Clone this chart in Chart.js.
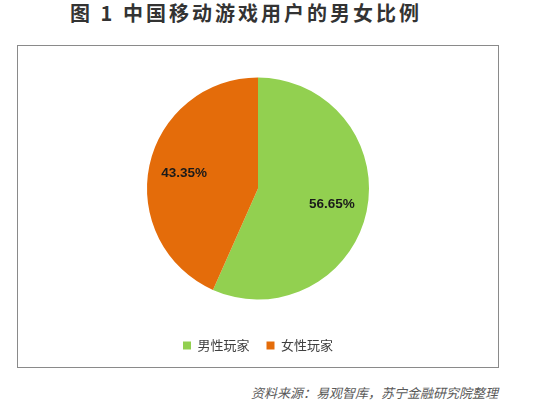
<!DOCTYPE html>
<html>
<head>
<meta charset="utf-8">
<script src="https://cdn.jsdelivr.net/npm/chart.js@4"></script>
<style>
  body { margin: 0; background: #fff; width: 534px; height: 404px; position: relative; overflow: hidden; }
  #title {
    position: absolute; left: 70px; top: 0px;
    font: bold 20px "Noto Sans CJK SC"; color: #333;
    letter-spacing: 3px; white-space: nowrap; line-height: 26px;
  }
  #box {
    position: absolute; left: 17px; top: 45px; width: 480px; height: 321px;
    border: 1px solid #8a8a8a;
  }
  #source {
    position: absolute; right: 36px; top: 383px;
    font: italic 13px "Noto Sans CJK SC"; color: #595959; white-space: nowrap;
  }
</style>
</head>
<body>
<div id="title">图 1 中国移动游戏用户的男女比例</div>
<div id="box"><canvas id="pieChart"></canvas></div>
<div id="source">资料来源：易观智库，苏宁金融研究院整理</div>
<script>
  // 데이터
  const categories = ['男性玩家', '女性玩家'];
  const shares = [56.65, 43.35];
  const sliceColors = ['#92D050', '#E46C0A'];

  // 조각 안에 퍼센트 표시
  const sliceLabels = {
    id: 'sliceLabels',
    afterDatasetsDraw(chart) {
      const ctx = chart.ctx;
      const meta = chart.getDatasetMeta(0);
      ctx.save();
      ctx.font = 'bold 13.5px "Liberation Sans"';
      ctx.fillStyle = '#1a1a1a';
      ctx.textAlign = 'center';
      ctx.textBaseline = 'middle';
      meta.data.forEach((arc, i) => {
        const p = arc.getProps(['x', 'y', 'startAngle', 'endAngle', 'outerRadius'], true);
        const mid = (p.startAngle + p.endAngle) / 2;
        const r = p.outerRadius * 0.68;
        ctx.fillText(shares[i].toFixed(2) + '%', p.x + Math.cos(mid) * r, p.y + Math.sin(mid) * r);
      });
      ctx.restore();
    }
  };

  var ctx = document.getElementById('pieChart').getContext('2d');
  var pieChart = new Chart(ctx, {
    type: 'pie',
    data: {
      labels: categories,
      datasets: [{
        data: shares,
        backgroundColor: sliceColors,
        borderWidth: 0,
        radius: 111
      }]
    },
    options: {
      responsive: true,
      maintainAspectRatio: false,
      animation: false,
      layout: {
        padding: { left: 0, right: 0, top: 9, bottom: 5 }
      },
      plugins: {
        tooltip: { enabled: false },
        legend: {
          position: 'bottom',
          labels: {
            boxWidth: 8,
            boxHeight: 8,
            padding: 17,
            color: '#404040',
            font: { family: '"Noto Sans CJK SC"', size: 13 }
          }
        }
      }
    },
    plugins: [sliceLabels]
  });
</script>
</body>
</html>
